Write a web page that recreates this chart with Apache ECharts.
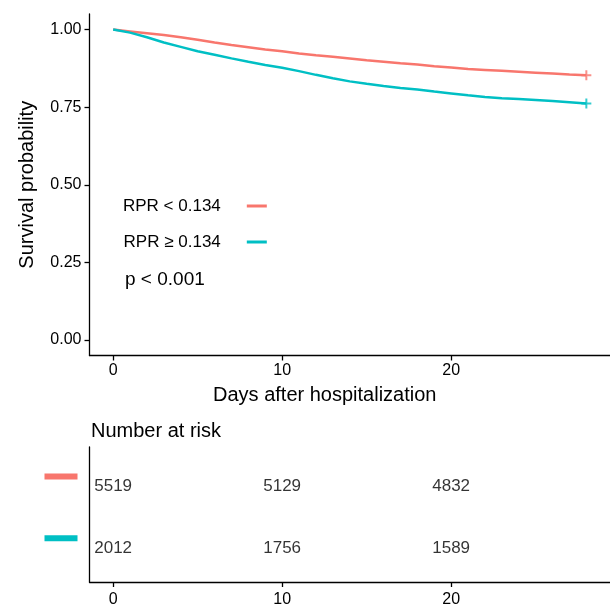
<!DOCTYPE html>
<html>
<head>
<meta charset="utf-8">
<script src="https://cdn.jsdelivr.net/npm/echarts@6/dist/echarts.min.js"></script>
<style>
  html, body { margin: 0; padding: 0; background: #fff; }
  #chart { width: 610px; height: 608px; }
</style>
</head>
<body>
<div id="chart"></div>
<script>
// survival curves
var days = [0, 1, 2, 3, 4, 5, 6, 7, 8, 9, 10, 11, 12, 13, 14, 15, 16, 17, 18, 19, 20, 21, 22, 23, 24, 25, 26, 27, 28];
var survLow = [1.000, 0.994, 0.988, 0.982, 0.975, 0.967, 0.958, 0.950, 0.943, 0.936, 0.930, 0.923, 0.917, 0.912, 0.907,
               0.901, 0.896, 0.891, 0.887, 0.882, 0.878, 0.873, 0.870, 0.867, 0.864, 0.861, 0.858, 0.855, 0.853];
var survHigh = [1.000, 0.990, 0.975, 0.958, 0.944, 0.930, 0.919, 0.907, 0.896, 0.886, 0.877, 0.866, 0.854, 0.843, 0.833,
                0.825, 0.818, 0.812, 0.807, 0.800, 0.794, 0.788, 0.783, 0.779, 0.776, 0.773, 0.770, 0.766, 0.762];
var groupNames = ['RPR < 0.134', 'RPR \u2265 0.134'];
var colors = ['#F8766D', '#00BFC4'];

var xTicks = [0, 10, 20];
var yTicks = [0, 0.25, 0.5, 0.75, 1];

// number at risk table
var riskTimes = [0, 10, 20];
var riskLow = [5519, 5129, 4832];
var riskHigh = [2012, 1756, 1589];

var FONT = 'Liberation Sans, Arial, sans-serif';
var plus = 'path://M4,0H6V4H10V6H6V10H4V6H0V4H4Z';

function pairs(xs, ys) {
  return xs.map(function (x, i) { return [x, ys[i]]; });
}
function lastPoint(ys) {
  return [[days[days.length - 1], ys[ys.length - 1]]];
}
function riskRow(vals, row) {
  return riskTimes.map(function (t, i) { return [t, row, vals[i]]; });
}

var axisLine = { show: true, onZero: false, lineStyle: { color: '#000', width: 1.3 } };
var axisTick = { show: true, length: 5, lineStyle: { color: '#000', width: 1.3 } };

var myChart = echarts.init(document.getElementById('chart'));
myChart.setOption({
  animation: false,
  textStyle: { fontFamily: FONT },
  title: {
    text: 'Number at risk',
    left: 86,
    top: 416,
    textStyle: { fontSize: 20, fontWeight: 'normal', color: '#000', fontFamily: FONT }
  },
  legend: {
    data: groupNames,
    orient: 'vertical',
    left: 118,
    top: 191,
    align: 'right',
    icon: 'rect',
    itemWidth: 20,
    itemHeight: 3,
    itemGap: 16,
    textStyle: { fontSize: 17, color: '#000', lineHeight: 20, padding: [0, 21, 0, 0], fontFamily: FONT }
  },
  graphic: [{
    type: 'text',
    left: 125,
    top: 270,
    style: { text: 'p < 0.001', fontSize: 19, fill: '#000', font: '19px ' + FONT }
  }],
  grid: [
    { left: 89.5, top: 14, width: 523.6, height: 341.5 },
    { left: 89.5, top: 447, width: 523.6, height: 140 }
  ],
  xAxis: [{
    gridIndex: 0,
    type: 'value',
    min: -1.4,
    max: 29.4,
    name: 'Days after hospitalization',
    nameLocation: 'middle',
    nameGap: 30,
    nameTextStyle: { fontSize: 20, color: '#000', fontFamily: FONT, padding: [0, 50, 0, 0] },
    axisLine: axisLine,
    axisTick: Object.assign({ customValues: xTicks }, axisTick),
    axisLabel: { customValues: xTicks, margin: 7, fontSize: 16, color: '#000' },
    splitLine: { show: false }
  }, {
    gridIndex: 1,
    type: 'value',
    min: -1.4,
    max: 29.4,
    axisLine: axisLine,
    axisTick: Object.assign({ customValues: xTicks }, axisTick),
    axisLabel: { customValues: xTicks, margin: 10, fontSize: 16, color: '#000' },
    splitLine: { show: false }
  }],
  yAxis: [{
    gridIndex: 0,
    type: 'value',
    min: -0.05,
    max: 1.05,
    name: 'Survival probability',
    nameLocation: 'middle',
    nameGap: 52,
    nameTextStyle: { fontSize: 20, color: '#000', fontFamily: FONT },
    axisLine: axisLine,
    axisTick: Object.assign({ customValues: yTicks }, axisTick),
    axisLabel: {
      customValues: yTicks,
      margin: 8,
      fontSize: 16,
      color: '#000',
      formatter: function (v) { return v.toFixed(2); }
    },
    splitLine: { show: false }
  }, {
    gridIndex: 1,
    type: 'value',
    min: -0.71,
    max: 1.48,
    axisLine: axisLine,
    axisTick: { show: false },
    axisLabel: {
      customValues: [0, 1],
      margin: 12,
      formatter: function (v) { return v === 1 ? '{a| }' : '{b| }'; },
      rich: {
        a: { width: 33, height: 6, lineHeight: 6, fontSize: 1, backgroundColor: colors[0] },
        b: { width: 33, height: 6, lineHeight: 6, fontSize: 1, backgroundColor: colors[1] }
      }
    },
    splitLine: { show: false }
  }],
  series: [
    {
      name: groupNames[0],
      type: 'line',
      xAxisIndex: 0, yAxisIndex: 0,
      data: pairs(days, survLow),
      symbol: 'none',
      lineStyle: { color: colors[0], width: 2.5 },
      itemStyle: { color: colors[0] }
    },
    {
      name: groupNames[1],
      type: 'line',
      xAxisIndex: 0, yAxisIndex: 0,
      data: pairs(days, survHigh),
      symbol: 'none',
      lineStyle: { color: colors[1], width: 2.5 },
      itemStyle: { color: colors[1] }
    },
    {
      name: 'censorLow',
      type: 'scatter',
      xAxisIndex: 0, yAxisIndex: 0,
      data: lastPoint(survLow),
      symbol: plus,
      symbolSize: 10,
      itemStyle: { color: colors[0] }
    },
    {
      name: 'censorHigh',
      type: 'scatter',
      xAxisIndex: 0, yAxisIndex: 0,
      data: lastPoint(survHigh),
      symbol: plus,
      symbolSize: 10,
      itemStyle: { color: colors[1] }
    },
    {
      name: 'riskLow',
      type: 'scatter',
      xAxisIndex: 1, yAxisIndex: 1,
      data: riskRow(riskLow, 1),
      symbolSize: 1,
      itemStyle: { color: 'transparent' },
      label: {
        show: true, position: 'inside', offset: [0, 10],
        fontSize: 17, color: '#000',
        formatter: function (p) { return String(p.value[2]); }
      }
    },
    {
      name: 'riskHigh',
      type: 'scatter',
      xAxisIndex: 1, yAxisIndex: 1,
      data: riskRow(riskHigh, 0),
      symbolSize: 1,
      itemStyle: { color: 'transparent' },
      label: {
        show: true, position: 'inside', offset: [0, 10],
        fontSize: 17, color: '#000',
        formatter: function (p) { return String(p.value[2]); }
      }
    }
  ]
});
window.onresize = function () {
  myChart.resize();
};
</script>
</body>
</html>
